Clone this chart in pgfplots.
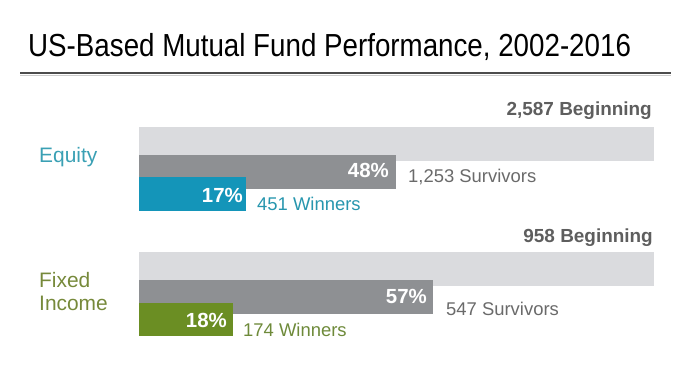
\documentclass[border=0pt]{standalone}
\usepackage{pgfplots}
\pgfplotsset{compat=1.18}
\usepackage{fontspec}
\setmainfont{Liberation Sans}
\newfontfamily\titlefont[FakeStretch=0.87]{Liberation Sans}
\definecolor{lightbar}{HTML}{DADBDE}
\definecolor{darkbar}{HTML}{8E9093}
\definecolor{eqbar}{HTML}{1495B9}
\definecolor{fibar}{HTML}{6B8E23}
\definecolor{eqtext}{HTML}{3AA0B4}
\definecolor{fitext}{HTML}{76893A}
\definecolor{wintext}{HTML}{2796AE}
\definecolor{fiwintext}{HTML}{6E8A3A}
\definecolor{begtext}{HTML}{5E5E5E}
\definecolor{survtext}{HTML}{6A6A6A}
\begin{document}
\begin{tikzpicture}
\path[use as bounding box] (0,0) rectangle (690bp,388bp);
\begin{axis}[
  width=690bp, height=388bp, scale only axis,
  xmin=-26.99, xmax=106.99, ymin=0, ymax=388, y dir=reverse,
  hide axis, clip=false,
  every axis plot/.append style={xbar, bar shift=0pt, draw=none},
]
% Equity: beginning, survivors, winners (bar length as share of beginning, %)
\addplot[fill=lightbar, bar width=34] coordinates {(100,144)};
\addplot[fill=darkbar, bar width=34] coordinates {(49.9,172)};
\addplot[fill=eqbar, bar width=34] coordinates {(20.8,194)};
% Fixed income
\addplot[fill=lightbar, bar width=34] coordinates {(100,269)};
\addplot[fill=darkbar, bar width=34] coordinates {(57.1,297)};
\addplot[fill=fibar, bar width=33] coordinates {(18.3,319.5)};

% title and rule
\node[anchor=base west, inner sep=0pt, font=\titlefont\fontsize{32}{34}\selectfont]
  at (axis cs:{(28-139)/5.15},57) {US-Based Mutual Fund Performance, 2002-2016};
\draw[line width=1.5bp, color=black!20] (axis cs:{(20-139)/5.15},75.5) -- (axis cs:{(671-139)/5.15},75.5);
\draw[line width=2bp, color=black!70] (axis cs:{(20-139)/5.15},73) -- (axis cs:{(671-139)/5.15},73);

% Equity labels
\node[anchor=base west, inner sep=0pt, text=eqtext, font=\fontsize{21}{23}\selectfont]
  at (axis cs:{(39-139)/5.15},162) {Equity};
\node[anchor=base east, inner sep=0pt, text=begtext, font=\bfseries\fontsize{19}{21}\selectfont]
  at (axis cs:{(652-139)/5.15},116) {2,587 Beginning};
\node[anchor=base east, inner sep=0pt, text=white, font=\bfseries\fontsize{20.5}{22}\selectfont]
  at (axis cs:{(389-139)/5.15},177) {48\%};
\node[anchor=base west, inner sep=0pt, text=survtext, font=\fontsize{18.5}{20}\selectfont]
  at (axis cs:{(408-139)/5.15},182) {1,253 Survivors};
\node[anchor=base east, inner sep=0pt, text=white, font=\bfseries\fontsize{20.5}{22}\selectfont]
  at (axis cs:{(243-139)/5.15},202) {17\%};
\node[anchor=base west, inner sep=0pt, text=wintext, font=\fontsize{18.5}{20}\selectfont]
  at (axis cs:{(257-139)/5.15},210) {451 Winners};

% Fixed income labels
\node[anchor=base west, inner sep=0pt, text=fitext, font=\fontsize{21}{23}\selectfont]
  at (axis cs:{(39-139)/5.15},287) {Fixed};
\node[anchor=base west, inner sep=0pt, text=fitext, font=\fontsize{21}{23}\selectfont]
  at (axis cs:{(39-139)/5.15},310) {Income};
\node[anchor=base east, inner sep=0pt, text=begtext, font=\bfseries\fontsize{19}{21}\selectfont]
  at (axis cs:{(653-139)/5.15},242) {958 Beginning};
\node[anchor=base east, inner sep=0pt, text=white, font=\bfseries\fontsize{20.5}{22}\selectfont]
  at (axis cs:{(427-139)/5.15},303) {57\%};
\node[anchor=base west, inner sep=0pt, text=survtext, font=\fontsize{18.5}{20}\selectfont]
  at (axis cs:{(446-139)/5.15},315) {547 Survivors};
\node[anchor=base east, inner sep=0pt, text=white, font=\bfseries\fontsize{20.5}{22}\selectfont]
  at (axis cs:{(227-139)/5.15},327) {18\%};
\node[anchor=base west, inner sep=0pt, text=fiwintext, font=\fontsize{18.5}{20}\selectfont]
  at (axis cs:{(243-139)/5.15},336) {174 Winners};
\end{axis}
\end{tikzpicture}
\end{document}
